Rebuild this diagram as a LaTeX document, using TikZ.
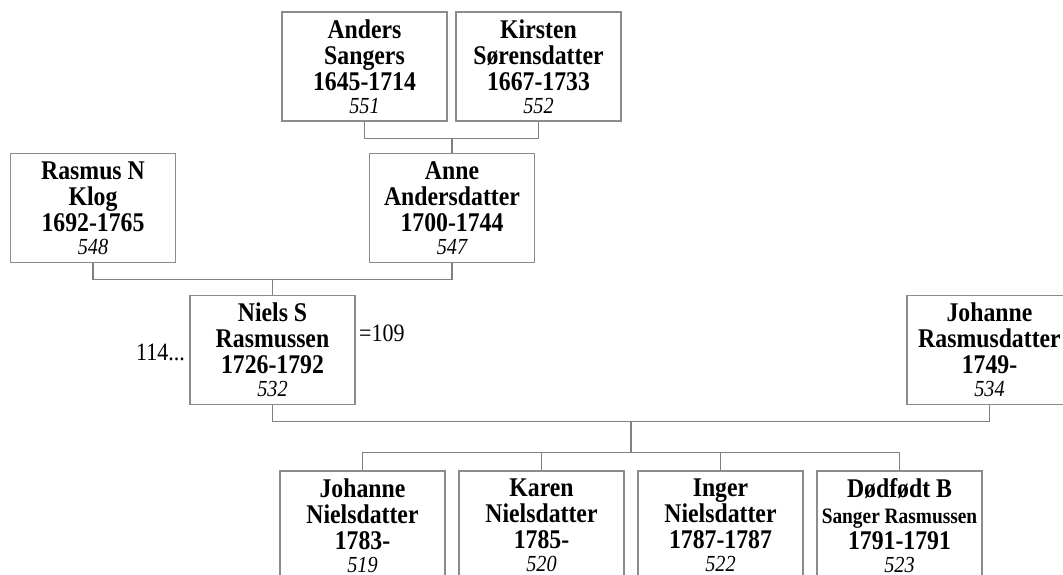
\documentclass[tikz,border=0pt]{standalone}
\usepackage{fontspec}
\setmainfont{Liberation Serif}[FakeStretch=0.88]
\definecolor{boxgray}{HTML}{8C8C8C}
\definecolor{linegray}{HTML}{808080}
\tikzset{
  person/.style={draw=boxgray, line width=1.2pt, minimum width=165pt, minimum height=109pt,
    inner sep=0pt, align=center, font=\fontsize{27}{26}\selectfont\bfseries},
  conn/.style={draw=linegray, line width=1.2pt},
  note/.style={font=\fontsize{25}{26}\selectfont, inner sep=0pt}
}
\newcommand{\pid}[1]{\\[-3pt]{\fontsize{23}{26}\selectfont\mdseries\itshape #1}}
\begin{document}
\begin{tikzpicture}[x=1pt,y=-1pt]
\useasboundingbox (0,0) rectangle (1063,575);
\clip (0,0) rectangle (1063,575);
\node[person] (anders) at (364.5,66.5) {Anders\\Sangers\\1645-1714\pid{551}};
\node[person] (kirsten) at (538.5,66.5) {Kirsten\\Sørensdatter\\1667-1733\pid{552}};
\node[person] (rasmus) at (93,208) {Rasmus N\\Klog\\1692-1765\pid{548}};
\node[person] (anne) at (452,208) {Anne\\Andersdatter\\1700-1744\pid{547}};
\node[person] (niels) at (272.5,350) {Niels S\\Rasmussen\\1726-1792\pid{532}};
\node[person] (johanneR) at (989.5,350) {Johanne\\Rasmusdatter\\1749-\pid{534}};
\node[person] (c1) at (362.5,525.5) {Johanne\\Nielsdatter\\1783-\pid{519}};
\node[person] (c2) at (541.5,525.5) {Karen\\Nielsdatter\\1785-\pid{520}};
\node[person] (c3) at (720.5,525.5) {Inger\\Nielsdatter\\1787-1787\pid{522}};
\node[person] (c4) at (899.5,525.5) {Dødfødt B\\{\fontsize{22}{26}\selectfont Sanger Rasmussen}\\1791-1791\pid{523}};
\node[note, anchor=east] (n114) at (185,352) {114...};
\node[note, anchor=west] (n109) at (359,333) {=109};
% connectors
\draw[conn] (anders.south) -- ++(0,17) coordinate (a1) -| (kirsten.south);
\draw[conn] (anne.north) -- (anne.north |- a1);
\draw[conn] (rasmus.south) -- ++(0,16) coordinate (r1) -| (anne.south);
\draw[conn] (niels.north) -- (niels.north |- r1);
\draw[conn] (niels.south) -- ++(0,16) coordinate (n1) -| (johanneR.south);
\coordinate (m1) at (631,421);
\draw[conn] (c1.north) -- ++(0,-18) coordinate (k1) -| (c4.north);
\draw[conn] (c2.north) -- (c2.north |- k1);
\draw[conn] (c3.north) -- (c3.north |- k1);
\draw[conn] (m1) -- (m1 |- k1);
\end{tikzpicture}
\end{document}
